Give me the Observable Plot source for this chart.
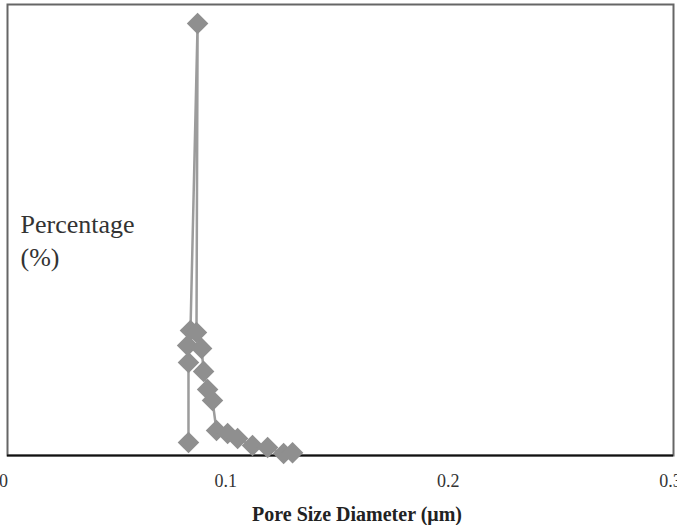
<!DOCTYPE html>
<html>
<head>
<meta charset="utf-8">
<script src="https://cdn.jsdelivr.net/npm/d3@7"></script>
<script src="https://cdn.jsdelivr.net/npm/@observablehq/plot@0.6"></script>
<style>
  body { margin: 0; background: #fff; }
</style>
</head>
<body>
<div id="chart"></div>
<script>
// Pore size diameter (µm), in drawing order
const poreSize = [0.0832, 0.0832, 0.0828, 0.0841, 0.0873, 0.0868, 0.0891, 0.0900, 0.0918,
                  0.0940, 0.0958, 0.1008, 0.1053, 0.1120, 0.1188, 0.1260, 0.1300];
// Percentage (%)
const percentage = [0.58, 4.12, 4.88, 5.54, 19.16, 5.45, 4.75, 3.73, 2.93,
                    2.44, 1.11, 0.98, 0.75, 0.44, 0.35, 0.09, 0.12];

const xTicks = [0, 0.1, 0.2, 0.3];
const xTickLabels = ["0", "0.1", "0.2", "0.3"];
const xTitle = "Pore Size Diameter (μm)";
const yTitle = "Percentage\n(%)";

const data = poreSize.map((x, i) => ({x, y: percentage[i]}));

const chart = Plot.plot({
  width: 677,
  height: 525,
  marginTop: 4,
  marginBottom: 70,
  marginLeft: 3,
  marginRight: 7,
  style: {fontFamily: "'Liberation Serif', serif", background: "#fff", color: "#222"},
  x: {domain: [0, 0.3], axis: null},
  y: {domain: [0, 20], axis: null},
  marks: [
    Plot.frame({stroke: "#666", strokeWidth: 2, insetLeft: 4, insetRight: -3}),
    Plot.ruleY([0], {stroke: "#111", strokeWidth: 2, insetLeft: 4, insetRight: -3}),
    Plot.axisX(xTicks, {
      tickSize: 0,
      tickPadding: 19,
      fontSize: 18,
      fill: "#333",
      tickFormat: (d, i) => xTickLabels[i],
      label: null
    }),
    Plot.line(data, {x: "x", y: "y", stroke: "#9c9c9c", strokeWidth: 2.5}),
    Plot.dot(data, {x: "x", y: "y", symbol: "diamond2", r: 9.7, fill: "#8f8f8f", stroke: "none"}),
    Plot.text([yTitle], {
      frameAnchor: "left", textAnchor: "start", lineAnchor: "middle",
      dx: 17, dy: 8.7, fontSize: 26, lineHeight: 1.27, fill: "#333"
    }),
    Plot.text([xTitle], {
      frameAnchor: "bottom", textAnchor: "middle", lineAnchor: "middle",
      dx: 20, dy: 58.6, fontSize: 20, fontWeight: "bold", fill: "#222"
    })
  ]
});

document.getElementById("chart").appendChild(chart);
</script>
</body>
</html>
